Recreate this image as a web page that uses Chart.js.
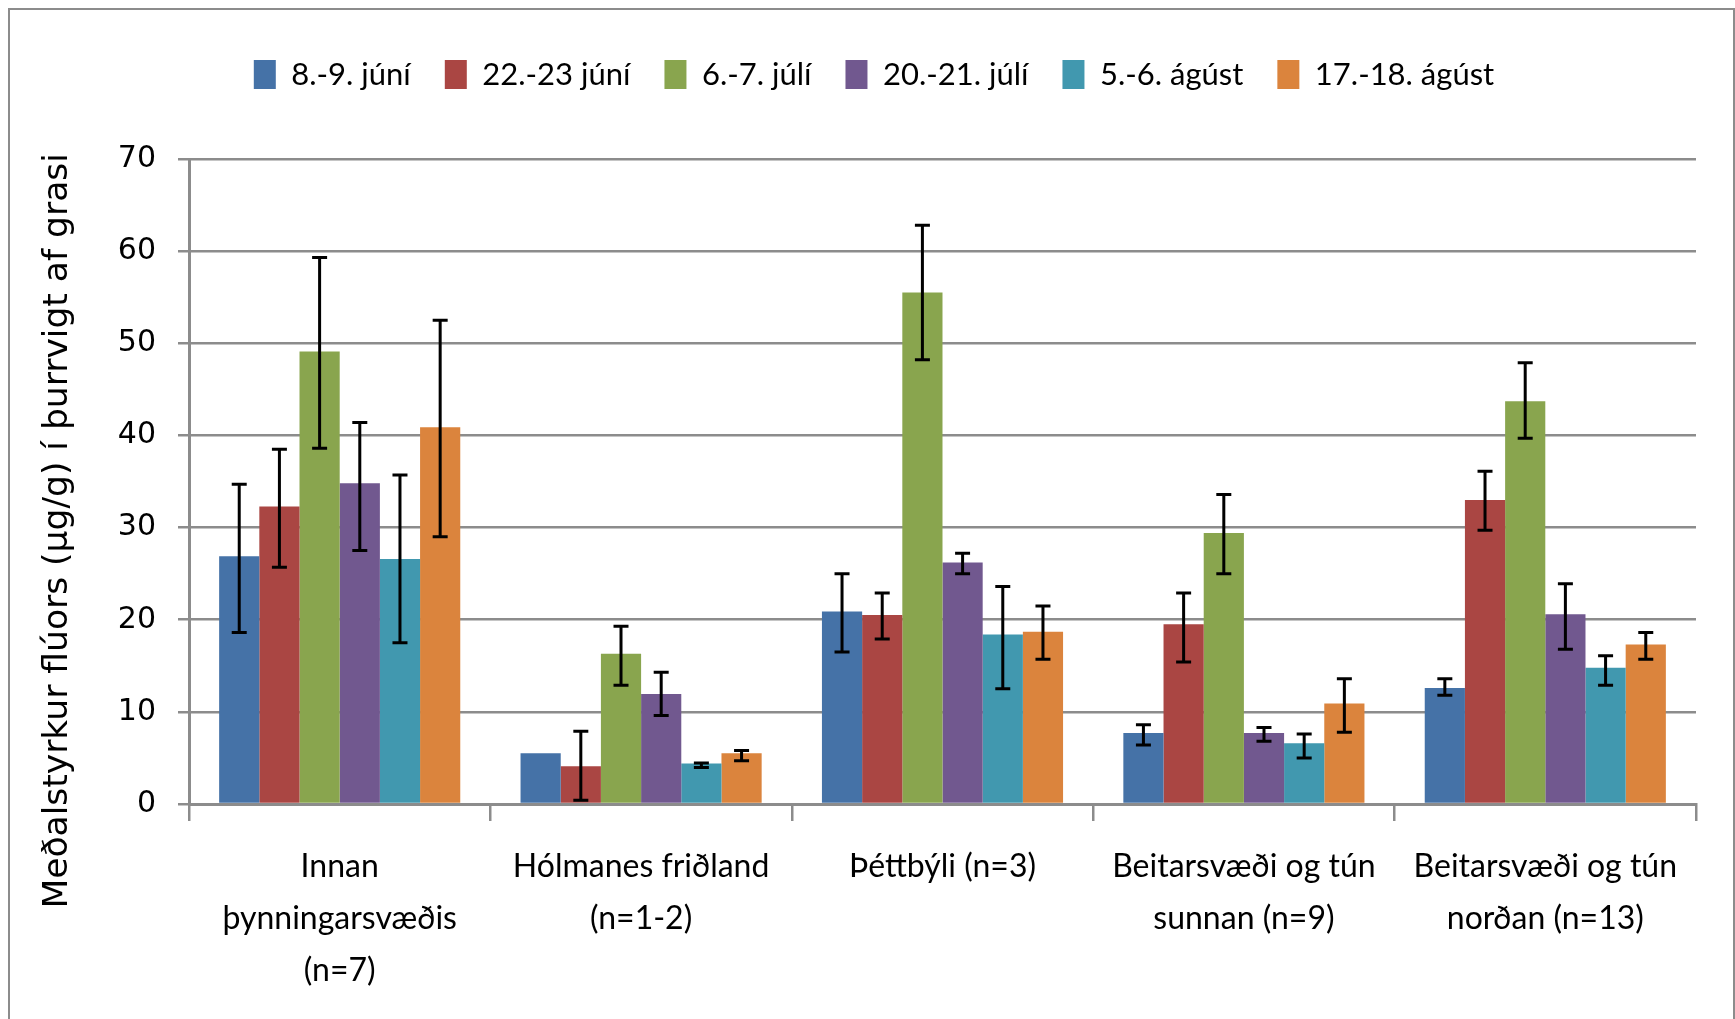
<!DOCTYPE html>
<html><head><meta charset="utf-8">
<script src="https://cdn.jsdelivr.net/npm/chart.js@4.4.1/dist/chart.umd.min.js"></script>
<style>
html,body{margin:0;padding:0;background:#fff;overflow:hidden}
#wrap{position:relative;width:1735px;height:1019px}
#frame{position:absolute;left:8px;top:8px;width:1727px;height:1040px;border:2px solid #8c8c8c;box-sizing:border-box;pointer-events:none}
canvas{position:absolute;left:0;top:0}
</style></head><body>
<div id="wrap"><canvas id="c" width="1735" height="1019"></canvas><div id="frame"></div></div>
<script>
const categories = [
  ["Innan", "þynningarsvæðis", "(n=7)"],
  ["Hólmanes friðland", "(n=1-2)"],
  ["Þéttbýli (n=3)"],
  ["Beitarsvæði og tún", "sunnan (n=9)"],
  ["Beitarsvæði og tún", "norðan (n=13)"]
];
const seriesLabels = ["8.-9. júní", "22.-23 júní", "6.-7. júlí", "20.-21. júlí", "5.-6. ágúst", "17.-18. ágúst"];
const seriesColors = ["#4572A7", "#AA4643", "#89A54E", "#71588F", "#4198AF", "#DB843D"];

const jun8  = [26.9, 5.5, 20.9, 7.7, 12.6];
const jun22 = [32.3, 4.1, 20.5, 19.5, 33.0];
const jul6  = [49.1, 16.3, 55.5, 29.4, 43.7];
const jul20 = [34.8, 11.95, 26.2, 7.7, 20.6];
const aug5  = [26.6, 4.4, 18.4, 6.6, 14.8];
const aug17 = [40.9, 5.5, 18.7, 10.9, 17.3];

const jun8Low  = [18.6, null, 16.5, 6.4, 11.8];
const jun8High = [34.7, null, 25.0, 8.6, 13.6];
const jun22Low  = [25.7, 0.4, 17.9, 15.4, 29.7];
const jun22High = [38.5, 7.9, 22.9, 22.9, 36.1];
const jul6Low  = [38.6, 12.9, 48.2, 25.0, 39.7];
const jul6High = [59.3, 19.3, 62.8, 33.6, 47.9];
const jul20Low  = [27.5, 9.6, 25.0, 6.8, 16.8];
const jul20High = [41.4, 14.3, 27.2, 8.3, 23.9];
const aug5Low  = [17.5, 3.95, 12.5, 5.0, 12.9];
const aug5High = [35.7, 4.45, 23.6, 7.6, 16.1];
const aug17Low  = [29.0, 4.7, 15.7, 7.8, 15.7];
const aug17High = [52.5, 5.8, 21.5, 13.6, 18.6];

const yTicks = [0, 10, 20, 30, 40, 50, 60, 70];
const yTitle = "Meðalstyrkur flúors (µg/g) í þurrvigt af grasi";

const seriesValues = [jun8, jun22, jul6, jul20, aug5, aug17];
const seriesLow = [jun8Low, jun22Low, jul6Low, jul20Low, aug5Low, aug17Low];
const seriesHigh = [jun8High, jun22High, jul6High, jul20High, aug5High, aug17High];

const LABEL_FONT = "Lato, 'Liberation Sans', sans-serif";
const NUM_FONT = "'DejaVu Sans', Verdana, sans-serif";

function makeSpacer(position, size) {
  const horiz = position === 'top' || position === 'bottom';
  return {
    position, weight: 500, fullSize: horiz, options: {},
    left: 0, top: 0, right: 0, bottom: 0, width: 0, height: 0,
    isHorizontal() { return horiz; },
    update(maxWidth, maxHeight) {
      if (horiz) { this.width = maxWidth; this.height = size; }
      else { this.width = size; this.height = maxHeight; }
    },
    draw() {}
  };
}

const spacerPlugin = {
  id: 'layoutSpacers',
  beforeInit(chart) {
    Chart.layouts.addBox(chart, makeSpacer('top', 59));
    Chart.layouts.addBox(chart, makeSpacer('right', 32));
  }
};

const errorBarPlugin = {
  id: 'errorBars',
  afterDatasetsDraw(chart) {
    const ctx = chart.ctx, y = chart.scales.y;
    ctx.save();
    ctx.strokeStyle = '#000';
    ctx.lineWidth = 3;
    chart.data.datasets.forEach((ds, di) => {
      const meta = chart.getDatasetMeta(di);
      meta.data.forEach((bar, i) => {
        const lo = seriesLow[di][i], hi = seriesHigh[di][i];
        if (lo == null || hi == null) return;
        const x = bar.x, yl = y.getPixelForValue(lo), yh = y.getPixelForValue(hi);
        ctx.beginPath();
        ctx.moveTo(x, yl); ctx.lineTo(x, yh);
        ctx.moveTo(x - 7.5, yl); ctx.lineTo(x + 7.5, yl);
        ctx.moveTo(x - 7.5, yh); ctx.lineTo(x + 7.5, yh);
        ctx.stroke();
      });
    });
    ctx.restore();
  }
};

new Chart(document.getElementById('c'), {
  type: 'bar',
  data: {
    labels: categories,
    datasets: seriesValues.map((vals, i) => ({
      label: seriesLabels[i],
      data: vals,
      backgroundColor: seriesColors[i],
      borderWidth: 0,
      categoryPercentage: 0.8,
      barPercentage: 1.0
    }))
  },
  options: {
    responsive: false,
    animation: false,
    devicePixelRatio: 1,
    layout: { padding: { top: 25, left: 20, right: 7, bottom: 0 } },
    plugins: {
      legend: {
        position: 'top',
        labels: { boxWidth: 22, boxHeight: 29, padding: 34, color: '#000', font: { family: LABEL_FONT, size: 31 } }
      },
      tooltip: { enabled: false }
    },
    scales: {
      x: {
        grid: { display: true, drawOnChartArea: false, offset: true, tickLength: 17, color: '#8c8c8c', lineWidth: 2.5 },
        border: { color: '#8c8c8c', width: 3 },
        ticks: { color: '#000', font: { family: LABEL_FONT, size: 32, lineHeight: 1.625 }, padding: 20, maxRotation: 0, minRotation: 0, autoSkip: false },
        afterFit(s) { s.height = 215; }
      },
      y: {
        min: yTicks[0], max: yTicks[yTicks.length - 1],
        afterBuildTicks(s) { s.ticks = yTicks.map(v => ({ value: v })); },
        ticks: { color: '#000', font: { family: NUM_FONT, size: 30 }, padding: 22 },
        grid: { color: '#8c8c8c', lineWidth: 2.5, tickLength: 11 },
        border: { color: '#8c8c8c', width: 3 },
        title: { display: true, text: yTitle + "         ", color: '#000', font: { family: NUM_FONT, size: 34.5 }, padding: { top: 17, bottom: 0 } },
        afterFit(s) { s.width = 169; }
      }
    }
  },
  plugins: [spacerPlugin, errorBarPlugin]
});
</script>
</body></html>
